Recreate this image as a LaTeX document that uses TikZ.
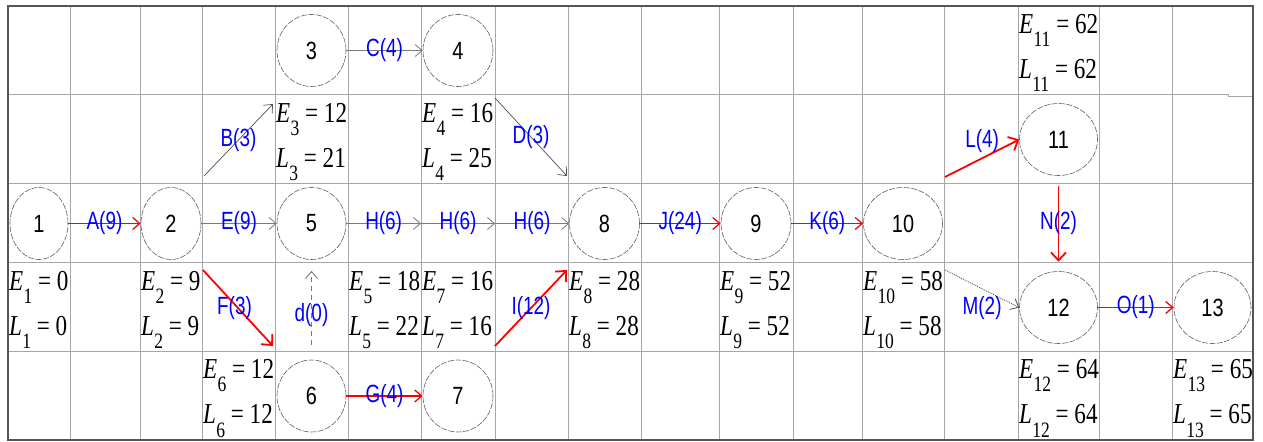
\documentclass[tikz,border=0pt]{standalone}
\usepackage{fontspec}
\setmainfont{Liberation Serif}[FakeStretch=0.8]
\newfontfamily\lsans{Liberation Sans}[FakeStretch=0.8]
\newfontfamily\lsanslab{Liberation Sans}[FakeStretch=0.76]
\usetikzlibrary{arrows.meta,shapes.geometric}
\definecolor{gridgray}{HTML}{A6A6A6}
\definecolor{bordergray}{HTML}{555555}
\definecolor{edgegray}{HTML}{7A7A7A}
\definecolor{diaggray}{HTML}{505050}
\definecolor{ellgray}{HTML}{606060}
\definecolor{labblue}{HTML}{0000FF}
\definecolor{critred}{HTML}{FF0000}
\newcommand{\subidx}[1]{\kern0.3pt\raisebox{-0.45em}{\fontsize{22}{22}\selectfont #1}}
\tikzset{
  gridline/.style={gridgray, line width=1bp},
  borderline/.style={bordergray, line width=1.6bp},
  event/.style={ellipse, draw=ellgray, line width=0.6bp, dash pattern=on 6bp off 1.5bp, minimum height=72bp, inner sep=0pt, font=\lsans\fontsize{25}{25}\selectfont},
  eltext/.style={anchor=base west, inner sep=0pt, font=\fontsize{29}{29}\selectfont},
  lab/.style={text=labblue, font=\lsanslab\fontsize{25}{25}\selectfont, inner sep=0pt},
  normal/.style={edgegray, line width=0.8bp, -{Straight Barb[length=7bp,width=12bp]}},
  diag/.style={diaggray, line width=0.7bp, -{Straight Barb[length=7bp,width=12bp]}},
  crit/.style={critred, line width=1.3bp, -{Straight Barb[length=7bp,width=12bp]}},
  critthick/.style={critred, line width=1.8bp, -{Straight Barb[length=8bp,width=15bp]}},
}
\newcommand{\ELpair}[5]{%
  \node[eltext] (E#3) at (#1,#2-17) {\textit{E}\subidx{#3} = #4};
  \node[eltext] (L#3) at (#1,#2+28) {\textit{L}\subidx{#3} = #5};
}
\begin{document}
\begin{tikzpicture}[x=1bp,y=-1bp]
\useasboundingbox (0,0) rectangle (1263,442);
\fill[white] (0,0) rectangle (1263,442);
% grid
\foreach \x in {70,140,202,275,348,421,495,568,641,719,793,862,944,1018,1099,1172}
  \draw[gridline] (\x,6) -- (\x,440);
\foreach \y in {184,263,352}
  \draw[gridline] (8,\y) -- (1253,\y);
\draw[gridline] (8,95) -- (1228,95) -- (1228,96.5) -- (1253,96.5);
\draw[borderline] (8,6) rectangle (1253,440);
% events
\node[event, minimum width=58bp] (n1) at (39,223.5) {1};
\node[event, minimum width=60bp] (n2) at (171,223.5) {2};
\node[event, minimum width=69bp] (n3) at (311.5,50.5) {3};
\node[event, minimum width=70bp] (n4) at (458,50.5) {4};
\node[event, minimum width=69bp] (n5) at (311.5,223.5) {5};
\node[event, minimum width=69bp] (n6) at (311.5,396) {6};
\node[event, minimum width=70bp] (n7) at (458,396) {7};
\node[event, minimum width=70bp] (n8) at (604.5,223.5) {8};
\node[event, minimum width=70bp] (n9) at (756,223.5) {9};
\node[event, minimum width=79bp] (n10) at (903,223.5) {10};
\node[event, minimum width=78bp] (n11) at (1058.5,139.5) {11};
\node[event, minimum width=78bp] (n12) at (1058.5,307.5) {12};
\node[event, minimum width=77bp] (n13) at (1212.5,307.5) {13};
% times
\ELpair{9}{307.5}{1}{0}{0}
\ELpair{141}{307.5}{2}{9}{9}
\ELpair{276}{139.5}{3}{12}{21}
\ELpair{422}{139.5}{4}{16}{25}
\ELpair{349}{307.5}{5}{18}{22}
\ELpair{203}{396}{6}{12}{12}
\ELpair{422}{307.5}{7}{16}{16}
\ELpair{569}{307.5}{8}{28}{28}
\ELpair{720}{307.5}{9}{52}{52}
\ELpair{863}{307.5}{10}{58}{58}
\ELpair{1019}{50.5}{11}{62}{62}
\ELpair{1019}{396}{12}{64}{64}
\ELpair{1173}{396}{13}{65}{65}
% free ends
\coordinate (h1) at (421,223.5);
\coordinate (h2) at (495,223.5);
\coordinate (b0) at (204,176);
\coordinate (b1) at (273,104);
\coordinate (d0) at (495,98);
\coordinate (d1) at (567,176);
\coordinate (f0) at (203,270);
\coordinate (f1) at (273,346);
\coordinate (i0) at (495,346);
\coordinate (i1) at (567,270);
\coordinate (l0) at (945,177);
\coordinate (m0) at (945,270);
% activities
\draw[crit] (n1) -- node[lab]{A(9)} (n2);
\draw[normal] (n2) -- node[lab]{E(9)} (n5);
\draw[normal] (n3) -- node[lab]{C(4)} (n4);
\draw[normal] (n5) -- node[lab]{H(6)} (h1);
\draw[normal] (h1) -- node[lab]{H(6)} (h2);
\draw[normal] (h2) -- node[lab]{H(6)} (n8);
\draw[crit] (n8) -- node[lab]{J(24)} (n9);
\draw[crit] (n9) -- node[lab]{K(6)} (n10);
\draw[crit] (n6) -- node[lab]{G(4)} (n7);
\draw[crit] (n12) -- node[lab]{O(1)} (n13);
\draw[diag] (b0) -- node[lab]{B(3)} (b1);
\draw[diag] (d0) -- node[lab]{D(3)} (d1);
\draw[critthick] (f0) -- node[lab, pos=0.45, yshift=-4bp]{F(3)} (f1);
\draw[critthick] (i0) -- node[lab]{I(12)} (i1);
\draw[critthick] (l0) -- node[lab, yshift=17bp]{L(4)} (n11.west);
\draw[critthick, shorten <=10bp, shorten >=9.5bp] (n11.south) -- node[lab]{N(2)} (n12.north);
\draw[diaggray, line width=0.8bp, dash pattern=on 1bp off 1bp, -{Straight Barb[length=7bp,width=12bp]}] (m0) -- node[lab, yshift=-19bp]{M(2)} (n12.west);
\draw[edgegray, line width=0.9bp, dash pattern=on 5bp off 4bp, shorten <=15bp, shorten >=11bp, -{Straight Barb[length=7bp,width=12bp]}] (n6.north) -- node[lab, yshift=-5bp]{d(0)} (n5.south);
\end{tikzpicture}
\end{document}
